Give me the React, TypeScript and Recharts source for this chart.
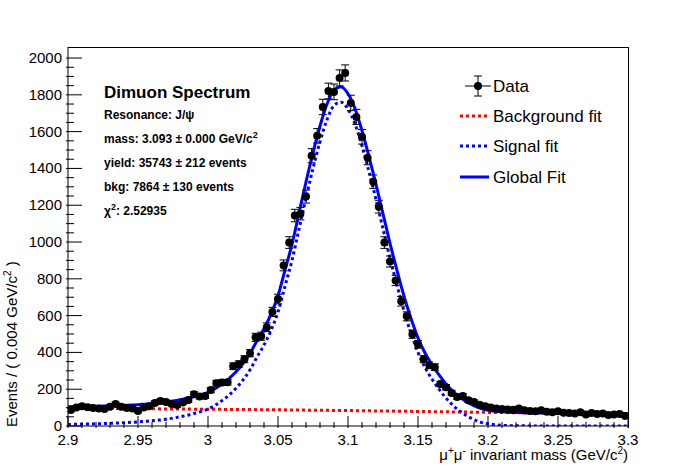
import React from "react";
import { ComposedChart, Line, Scatter, XAxis, YAxis, ErrorBar } from "recharts";

const binStart = 2.9;
const binWidth = 0.004;
const counts = [
  87, 100, 108, 102, 98, 95, 92, 105, 119, 104, 98, 95, 81, 100, 108, 125, 136, 130, 120, 114,
  128, 141, 173, 160, 163, 195, 233, 236, 238, 325, 336, 363, 396, 482, 488, 537, 620, 690, 873, 997,
  1144, 1154, 1247, 1469, 1577, 1734, 1821, 1816, 1892, 1919, 1756, 1680, 1572, 1458, 1328, 1192, 997, 894, 791, 678,
  596, 499, 444, 363, 330, 320, 228, 211, 180, 157, 163, 140, 130, 115, 108, 100, 95, 92, 90, 88,
  95, 85, 82, 80, 85, 78, 75, 80, 72, 70, 68, 75, 62, 70, 65, 68, 60, 62, 65, 55,
];

const curveX = Array.from({ length: 81 }, (_, i) => +(2.9 + i * 0.005).toFixed(3));
const signalFit = [
  8, 9, 10, 11, 12, 13, 15, 16, 18, 20, 22, 25, 28, 32, 37, 43, 50, 58, 68, 78,
  92, 112, 138, 168, 205, 250, 305, 375, 440, 520, 620, 760, 900, 1070, 1240, 1400, 1545, 1665, 1742, 1760,
  1722, 1642, 1522, 1382, 1232, 1072, 912, 765, 625, 505, 400, 318, 255, 200, 152, 112, 80, 55, 35, 20,
  12, 7, 4, 2, 1, 1, 0, 0, 0, 0, 0, 0, 0, 0, 0, 0, 0, 0, 0, 0, 0,
];
const bgX = [2.9, 2.95, 3.0, 3.05, 3.1, 3.15, 3.2, 3.25, 3.3];
const bgFit = [97, 94, 91, 88, 84, 79, 74, 69, 65];

const xMajor = [2.9, 2.95, 3.0, 3.05, 3.1, 3.15, 3.2, 3.25, 3.3];
const xMajorLabels = ["2.9", "2.95", "3", "3.05", "3.1", "3.15", "3.2", "3.25", "3.3"];
const yMajor = [0, 200, 400, 600, 800, 1000, 1200, 1400, 1600, 1800, 2000];

const bgAt = (x: number) => {
  for (let i = 0; i < bgX.length - 1; i++) {
    if (x <= bgX[i + 1] + 1e-9) {
      const t = (x - bgX[i]) / (bgX[i + 1] - bgX[i]);
      return bgFit[i] + t * (bgFit[i + 1] - bgFit[i]);
    }
  }
  return bgFit[bgFit.length - 1];
};

const dataPts = counts.map((c, i) => ({ x: +(binStart + binWidth * (i + 0.5)).toFixed(4), y: c, err: Math.sqrt(c) }));
const sigData = curveX.map((x, i) => ({ x, y: signalFit[i] }));
const bgData = bgX.map((x, i) => ({ x, y: bgFit[i] }));
const globalData = curveX.map((x, i) => ({ x, y: signalFit[i] + bgAt(x) }));

const xTicks = Array.from({ length: 41 }, (_, i) => +(2.9 + i * 0.01).toFixed(2));
const yTicks = Array.from({ length: 41 }, (_, i) => i * 50);

const FONT = "'Liberation Sans', Arial, sans-serif";

const XTick = (p: any) => {
  const v = p.payload.value;
  const idx = xMajor.findIndex((m) => Math.abs(m - v) < 1e-6);
  const major = idx >= 0;
  return (
    <g>
      <line x1={p.x} x2={p.x} y1={p.y} y2={p.y - (major ? 12 : 6)} stroke="#000" />
      {major && (
        <text x={p.x} y={p.y + 17} textAnchor="middle" fontSize={15} fontFamily={FONT} fill="#000">
          {xMajorLabels[idx]}
        </text>
      )}
    </g>
  );
};

const YTick = (p: any) => {
  const v = p.payload.value;
  const major = yMajor.includes(v);
  return (
    <g>
      <line x1={p.x} x2={p.x + (major ? 16 : 8)} y1={p.y} y2={p.y} stroke="#000" />
      {major && (
        <text x={p.x - 4} y={p.y + 5} textAnchor="end" fontSize={15} fontFamily={FONT} fill="#000">
          {v}
        </text>
      )}
    </g>
  );
};

const Dot = (p: any) => <circle cx={p.cx} cy={p.cy} r={4} fill="#000" />;

export default function App() {
  return (
    <div style={{ position: "absolute", left: 0, top: 0, width: 698, height: 475, background: "#fff", fontFamily: FONT }}>
      <ComposedChart width={698} height={475} margin={{ top: 47, right: 70, bottom: 48, left: 28 }}>
        <XAxis dataKey="x" type="number" domain={[2.9, 3.3]} ticks={xTicks} interval={0} tick={<XTick />} tickLine={false} tickSize={0} height={1} stroke="#000" allowDataOverflow />
        <YAxis type="number" domain={[0, 2060]} ticks={yTicks} interval={0} tick={<YTick />} tickLine={false} tickSize={0} width={40} stroke="#000" allowDataOverflow />
        <Line data={bgData} dataKey="y" stroke="#ff0000" strokeWidth={3} strokeDasharray="3 3" dot={false} isAnimationActive={false} />
        <Line data={sigData} dataKey="y" type="monotone" stroke="#0000ff" strokeWidth={3} strokeDasharray="3 3" dot={false} isAnimationActive={false} />
        <Scatter data={dataPts} dataKey="y" shape={<Dot />} isAnimationActive={false}>
          <ErrorBar dataKey="err" direction="y" width={4} stroke="#000" strokeWidth={1} />
        </Scatter>
        <Line data={globalData} dataKey="y" type="monotone" stroke="#0000ff" strokeWidth={3} dot={false} isAnimationActive={false} />
      </ComposedChart>
      <div style={{ position: "absolute", left: 68, top: 47, width: 561, height: 381, borderTop: "1px solid #000", borderRight: "1px solid #000", boxSizing: "border-box", pointerEvents: "none" }} />
      <svg width={698} height={475} style={{ position: "absolute", left: 0, top: 0, pointerEvents: "none" }} fontFamily={FONT}>
        <text transform="translate(17,427) rotate(-90)" fontSize={15} textAnchor="start">
          Events / ( 0.004 GeV/c<tspan dy={-6} fontSize={10}>2</tspan><tspan dy={6}> )</tspan>
        </text>
        <text x={628} y={460} fontSize={15} textAnchor="end">
          μ<tspan dy={-6} fontSize={10}>+</tspan><tspan dy={6}>μ</tspan><tspan dy={-6} fontSize={10}>-</tspan><tspan dy={6}> invariant mass (GeV/c</tspan><tspan dy={-6} fontSize={10}>2</tspan><tspan dy={6}>)</tspan>
        </text>
        <text x={104} y={98} fontSize={17} fontWeight="bold">Dimuon Spectrum</text>
        <text x={104} y={119} fontSize={12} fontWeight="bold">Resonance: J/ψ</text>
        <text x={104} y={143} fontSize={12} fontWeight="bold">mass: 3.093 ± 0.000 GeV/c<tspan dy={-5} fontSize={9}>2</tspan></text>
        <text x={104} y={167} fontSize={12} fontWeight="bold">yield: 35743 ± 212 events</text>
        <text x={104} y={191} fontSize={12} fontWeight="bold">bkg: 7864 ± 130 events</text>
        <text x={104} y={215} fontSize={12} fontWeight="bold">χ<tspan dy={-5} fontSize={9}>2</tspan><tspan dy={5}>: 2.52935</tspan></text>
        <g>
          <line x1={465} x2={491} y1={86} y2={86} stroke="#000" />
          <line x1={478} x2={478} y1={76} y2={96} stroke="#000" />
          <line x1={474} x2={482} y1={76} y2={76} stroke="#000" />
          <line x1={474} x2={482} y1={96} y2={96} stroke="#000" />
          <circle cx={478} cy={86} r={4} fill="#000" />
          <text x={493} y={92} fontSize={17}>Data</text>
          <line x1={460} x2={489} y1={116} y2={116} stroke="#ff0000" strokeWidth={3} strokeDasharray="3 3" />
          <text x={493} y={122} fontSize={17}>Background fit</text>
          <line x1={460} x2={489} y1={146} y2={146} stroke="#0000ff" strokeWidth={3} strokeDasharray="3 3" />
          <text x={493} y={152} fontSize={17}>Signal fit</text>
          <line x1={460} x2={489} y1={177} y2={177} stroke="#0000ff" strokeWidth={3} />
          <text x={493} y={183} fontSize={17}>Global Fit</text>
        </g>
      </svg>
    </div>
  );
}
